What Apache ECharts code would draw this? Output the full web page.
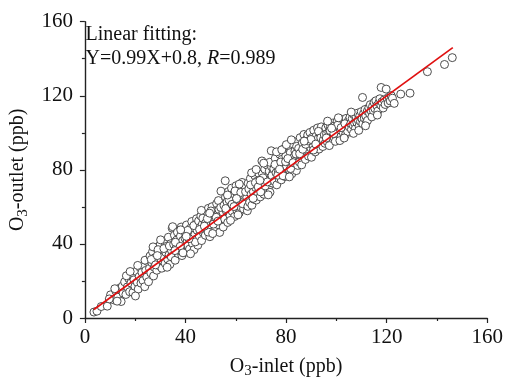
<!DOCTYPE html>
<html>
<head>
<meta charset="utf-8">
<script src="https://cdn.jsdelivr.net/npm/echarts@6/dist/echarts.min.js"></script>
<style>html,body{margin:0;padding:0;background:#fff}#c{width:506px;height:384px}</style>
</head>
<body>
<div id="c"></div>
<script>
// Axis ticks
var xTicks = [0, 40, 80, 120, 160];
var yTicks = [0, 40, 80, 120, 160];
// Fitted line endpoints (O3-inlet, O3-outlet)
var fitInlet = [3.6, 146.3];
var fitOutlet = [4.6, 146.0];
// Measured points [O3-inlet, O3-outlet] in ppb
var points = [
[3.6,3.2],[4.8,3.7],[6.5,6.2],[8.9,6.4],[10.2,12.5],[11.5,9.8],[12.3,14.6],[13.1,11.2],[13.8,16.1],[14.4,8.9],[15.2,13.4],[11.9,15.8],[9.7,10.3],[14.9,17.2],[12.8,9.1],
[15.8,19.5],[16.3,12.7],[16.9,16.8],[17.4,21.3],[17.8,14.2],[18.3,18.9],[18.7,23.4],[19.1,13.8],[19.5,20.6],[19.9,17.1],[20.4,25.2],[20.8,19.3],[21.2,15.6],[21.6,22.4],[22.0,27.1],[22.3,18.8],[22.7,24.6],[23.1,20.2],[23.5,28.3],[23.8,16.9],[24.2,25.7],[24.6,22.1],[25.0,30.4],[25.3,19.6],[25.7,26.8],[16.5,22.8],[18.0,25.1],[21.0,28.4],[23.9,31.2],[20.1,11.9],
[25.9,33.5],[26.2,24.3],[26.6,29.9],[26.9,35.8],[27.3,22.7],[27.6,27.4],[27.9,32.6],[28.3,37.9],[28.6,25.8],[28.9,30.1],[29.3,34.7],[29.6,28.2],[29.9,39.5],[30.3,31.4],[30.6,26.9],[30.9,36.2],[31.2,33.1],[31.6,41.3],[31.9,29.6],[32.2,35.4],[32.5,38.7],[32.9,31.8],[33.2,43.6],[33.5,34.2],[33.8,28.9],[34.1,40.1],[34.4,36.6],[34.7,48.5],[34.9,49.3],[35.0,32.7],[26.4,31.6],[27.1,38.4],[28.1,28.7],[29.1,36.9],[30.1,42.2],[31.4,37.5],[32.7,27.4],[33.6,38.9],[34.3,33.1],[28.8,33.7],
[35.3,39.8],[35.6,44.7],[35.9,31.2],[36.2,37.5],[36.5,42.1],[36.8,46.3],[37.1,34.8],[37.4,40.6],[37.7,36.3],[38.0,44.2],[38.3,49.1],[38.6,33.7],[38.9,41.8],[39.2,38.4],[39.5,46.9],[39.8,43.1],[40.1,35.6],[40.4,50.2],[40.7,41.5],[41.0,39.1],[41.3,45.6],[41.6,37.2],[41.9,48.4],[42.2,43.3],[42.5,52.1],[42.8,40.2],[43.1,46.7],[43.4,36.9],[43.7,44.9],[44.0,50.8],[44.3,42.6],[44.6,47.4],[44.9,39.3],[36.0,40.9],[37.9,38.7],[39.0,35.2],[40.9,47.3],[42.0,34.7],[43.9,41.1],[44.4,53.6],[38.1,47.6],[41.4,42.8],[43.3,49.9],[35.8,36.4],[40.3,44.1],
[45.2,52.4],[45.5,44.3],[45.8,48.9],[46.1,55.1],[46.4,41.8],[46.7,50.6],[47.0,46.2],[47.3,57.3],[47.6,52.8],[47.9,44.7],[48.2,49.5],[48.5,55.9],[48.8,47.1],[49.1,59.2],[49.4,51.7],[49.7,43.9],[50.0,54.3],[50.3,49.2],[50.6,60.1],[50.9,52.6],[51.2,46.8],[51.5,57.4],[51.8,53.1],[52.1,48.3],[52.4,61.8],[52.7,55.7],[53.0,50.4],[53.3,58.6],[53.6,46.2],[53.9,54.9],[54.1,68.5],[54.3,62.3],[54.6,51.8],[54.9,57.2],[55.0,49.1],[45.6,47.8],[46.9,53.9],[48.0,51.3],[49.0,46.4],[50.1,57.8],[51.1,50.7],[52.2,54.4],[53.1,63.4],[54.0,59.7],[46.3,58.1],[48.7,53.7],[50.8,45.6],[52.9,52.3],[47.5,49.6],[49.6,56.6],
[55.3,60.8],[55.8,74.1],[55.6,53.4],[55.9,65.2],[56.2,57.9],[56.5,62.7],[56.8,51.6],[57.1,68.3],[57.4,59.4],[57.7,55.2],[58.0,64.6],[58.3,70.1],[58.6,57.6],[58.9,62.1],[59.2,66.9],[59.5,54.8],[59.8,61.3],[60.1,71.4],[60.4,58.2],[60.7,65.8],[61.0,62.4],[61.3,56.7],[61.6,69.2],[61.9,63.7],[62.2,59.6],[62.5,73.2],[62.8,66.1],[63.1,58.9],[63.4,64.3],[63.7,70.6],[64.0,61.2],[64.3,67.5],[64.6,57.9],[64.9,72.8],[56.0,59.1],[57.3,63.8],[58.5,61.4],[59.7,68.6],[60.9,55.7],[62.0,67.8],[63.2,62.9],[64.4,65.1],[57.9,52.7],[59.3,60.2],[61.4,72.3],[62.7,61.7],[63.9,68.2],[60.3,64.5],[56.7,66.4],[64.8,60.3],
[65.2,69.7],[65.5,62.4],[65.8,75.3],[66.1,66.8],[66.4,60.9],[66.7,71.6],[67.0,68.2],[67.3,64.1],[67.6,76.8],[67.9,70.4],[68.2,63.7],[68.5,73.9],[68.8,67.3],[69.1,78.2],[69.4,71.1],[69.7,65.4],[70.0,74.6],[70.4,84.8],[70.3,69.2],[70.6,77.9],[70.9,72.3],[71.2,66.8],[71.5,80.4],[71.8,74.1],[72.1,69.5],[72.4,82.6],[72.7,76.2],[73.0,70.7],[73.3,79.3],[73.6,67.9],[73.9,75.4],[74.1,90.3],[74.2,81.7],[74.5,72.9],[74.8,78.5],[65.9,71.9],[66.9,64.6],[67.8,73.1],[68.9,70.8],[69.9,68.1],[70.8,75.7],[71.7,71.3],[72.6,73.5],[73.5,84.1],[74.4,76.9],[66.3,78.4],[68.1,80.2],[69.6,74.3],[71.1,83.6],[72.9,66.5],
[75.1,80.6],[75.4,73.8],[75.7,86.2],[76.0,78.4],[76.3,71.9],[76.6,83.1],[76.9,79.6],[77.2,75.2],[77.5,88.4],[77.8,81.3],[78.1,74.6],[78.4,85.7],[78.7,79.1],[79.0,91.2],[79.3,82.8],[79.6,76.4],[79.9,87.5],[80.2,81.9],[80.5,77.3],[80.8,92.8],[81.1,84.6],[81.4,79.8],[81.7,89.3],[82.0,83.2],[82.3,77.9],[82.6,94.1],[82.9,86.7],[83.2,81.4],[83.5,90.2],[83.8,84.9],[84.1,79.6],[84.4,95.3],[84.7,88.1],[75.6,82.9],[76.7,77.1],[77.9,84.2],[78.8,76.8],[79.8,84.4],[80.7,86.1],[81.8,80.7],[82.8,83.9],[83.9,88.6],[84.6,82.4],[76.2,89.7],[78.3,90.8],[80.1,93.6],[82.1,96.2],[84.2,92.7],[77.4,80.3],[81.3,76.2],
[85.0,91.6],[85.3,84.2],[85.6,97.4],[85.9,89.3],[86.2,82.7],[86.5,94.6],[86.8,88.2],[87.1,99.1],[87.4,91.4],[87.7,85.6],[88.0,96.3],[88.3,90.1],[88.6,98.8],[88.9,87.4],[89.2,93.7],[89.5,100.2],[89.8,91.9],[90.1,86.8],[90.4,97.5],[90.7,93.2],[91.0,101.4],[91.3,95.8],[91.6,89.7],[91.9,98.1],[92.2,94.3],[92.5,102.6],[92.8,96.9],[93.1,91.2],[93.4,99.7],[93.7,95.1],[94.0,103.2],[94.3,97.8],[94.6,92.6],[94.9,100.4],[85.4,88.7],[86.6,91.1],[87.8,93.8],[88.8,95.6],[89.9,96.4],[90.9,90.7],[91.8,93.9],[92.9,100.8],[93.8,97.3],[94.8,96.1],[87.2,95.5],
[95.2,98.9],[95.5,94.3],[95.8,102.7],[96.1,99.5],[96.4,95.1],[96.7,104.1],[97.0,100.3],[97.3,96.7],[97.6,103.4],[97.9,99.8],[98.2,95.9],[98.5,105.2],[98.8,101.6],[99.1,97.4],[99.4,103.9],[99.7,100.5],[100.0,98.1],[100.3,106.3],[100.6,102.2],[100.9,98.7],[101.2,104.8],[101.5,101.1],[101.8,97.9],[102.1,107.2],[102.4,103.5],[102.7,100.1],[103.0,105.9],[103.3,102.4],[103.6,98.9],[103.9,107.8],[104.2,104.3],[104.5,100.7],[104.8,106.6],[96.0,97.2],[97.5,101.2],[99.0,99.6],[100.5,104.1],[101.9,102.8],[103.4,104.9],[98.1,102.5],[97.2,93.1],[99.6,95.4],[101.4,95.8],[103.1,97.2],[96.5,106.3],[100.8,108.1],
[105.1,103.2],[105.4,108.4],[105.7,104.9],[106.0,101.8],[106.3,107.6],[106.6,104.2],[106.9,109.8],[107.2,105.3],[107.5,102.1],[107.8,108.9],[108.1,105.7],[108.4,110.6],[108.7,106.9],[109.0,103.6],[109.3,109.2],[109.6,106.1],[109.9,111.4],[110.4,119.1],[110.2,107.5],[110.5,104.8],[110.8,110.3],[111.1,107.9],[111.4,112.6],[111.7,109.1],[112.0,105.9],[112.3,111.7],[112.4,106.7],[112.9,113.5],[113.2,110.4],[113.5,115.2],[113.8,111.9],[114.1,108.6],[114.4,114.3],[114.7,112.1],[115.0,116.4],[106.8,99.7],[108.9,101.3],[111.6,103.8],[105.9,111.2],
[115.3,113.1],[115.7,117.3],[116.1,114.6],[116.5,111.8],[116.9,116.2],[117.3,118.4],[117.7,114.9],[118.1,116.7],[117.8,124.5],[118.6,113.4],[119.0,117.8],[119.4,115.3],[119.8,123.6],[120.2,118.6],[120.6,116.1],[121.0,119.3],[121.4,117.2],[121.8,120.1],[122.3,118.7],[123.0,115.9],[116.3,109.6],
[125.6,120.9],[129.3,121.4],[136.2,133.0],[143.0,136.9],[146.1,140.6]
];

var serif = '"Liberation Serif","Times New Roman",serif';
var chart = echarts.init(document.getElementById('c'), null, {renderer: 'canvas'});
var axisCommon = {
  type: 'value', min: xTicks[0], max: xTicks[xTicks.length - 1], interval: xTicks[1] - xTicks[0],
  axisLine: {show: true, onZero: false, lineStyle: {color: '#222', width: 1.4}},
  axisTick: {show: true, inside: false, length: 5, lineStyle: {color: '#222', width: 1.2}},
  minorTick: {show: true, splitNumber: 2, length: 3, lineStyle: {color: '#222', width: 1.2}},
  splitLine: {show: false},
  nameLocation: 'middle'
};
var nameStyle = {color: '#111', fontFamily: serif, fontSize: 20,
  rich: {s: {fontFamily: serif, fontSize: 15, color: '#111', verticalAlign: 'bottom', padding: [10, 0, 0, 0]}}};
chart.setOption({
  animation: false,
  backgroundColor: '#fff',
  grid: {left: 80.7, right: 16.7, top: 21.7, bottom: 62.3, containLabel: false},
  xAxis: Object.assign({}, axisCommon, {
    name: 'O{s|3}-inlet (ppb)', nameGap: 36, nameTextStyle: nameStyle,
    axisLabel: {color: '#111', fontFamily: serif, fontSize: 21, margin: 9}
  }),
  yAxis: Object.assign({}, axisCommon, {
    min: yTicks[0], max: yTicks[yTicks.length - 1], interval: yTicks[1] - yTicks[0],
    name: 'O{s|3}-outlet (ppb)', nameGap: 47, nameTextStyle: nameStyle,
    axisLabel: {color: '#111', fontFamily: serif, fontSize: 21, margin: 12}
  }),
  graphic: [{
    type: 'text', left: 85.5, top: 23, z: 100,
    style: {
      text: 'Linear fitting:\nY=0.99X+0.8, {i|R}=0.989',
      fontFamily: serif, fontSize: 20, fill: '#111', lineHeight: 24,
      rich: {i: {fontFamily: serif, fontSize: 20, fontStyle: 'italic', fill: '#111', lineHeight: 24}}
    }
  }],
  series: [{
    type: 'scatter',
    data: points,
    symbol: 'circle',
    symbolSize: 8,
    itemStyle: {color: '#fff', borderColor: '#3a3a3a', borderWidth: 0.9, opacity: 1},
    z: 2
  }, {
    type: 'line',
    data: fitInlet.map(function (x, i) { return [x, fitOutlet[i]]; }),
    showSymbol: false,
    symbol: 'none',
    lineStyle: {color: '#e01010', width: 1.7},
    z: 5
  }]
});
</script>
</body>
</html>
